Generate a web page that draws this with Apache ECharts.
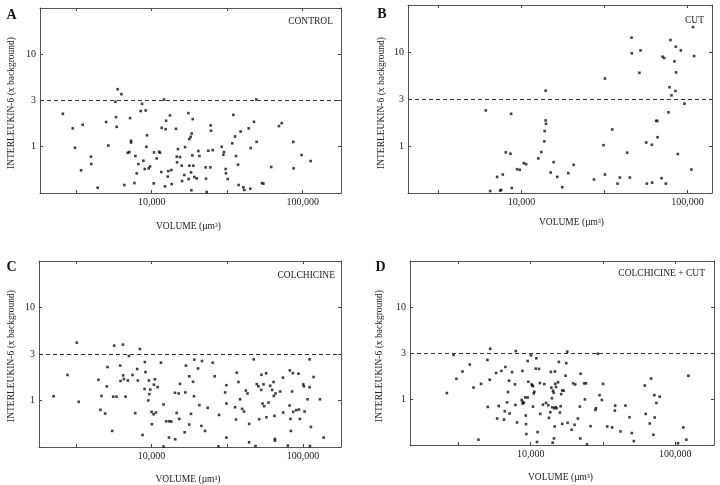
<!DOCTYPE html>
<html><head><meta charset="utf-8">
<script src="https://cdn.jsdelivr.net/npm/echarts@6/dist/echarts.min.js"></script>
<style>html,body{margin:0;padding:0;background:#fff}#c{width:720px;height:485px}</style>
</head><body><div id="c"></div>
<script>
// ---------- data ----------
const panelLetters = ['A', 'B', 'C', 'D'];
const panelTitles = ['CONTROL', 'CUT', 'COLCHICINE', 'COLCHICINE + CUT'];
const xName = 'VOLUME (\u00B5m\u00B3)';
const yName = 'INTERLEUKIN-6 (x background)';
const xTickValues = [10000, 100000];
const xTickLabels = ['10,000', '100,000'];
const yTickValues = [1, 3.162, 10];
const yTickLabels = ['1', '3', '10'];
const thresholdIL6 = 3.162;

const controlVolume = [2580,3000,3105,3490,3405,3963,3981,4390,4990,5165,5745,5805,5865,5955,6300,6590,6935,7115,7190,7300,7300,7680,7800,7960,8165,8455,8630,8810,8990,9120,9225,9310,9550,9750,10310,10360,10790,11190,11350,11590,11650,12070,12250,12380,12450,12760,12890,13220,13490,13560,14490,14650,14720,14930,15410,15810,15890,16450,16630,17500,17580,17760,17760,18130,18220,18320,18410,18590,18690,18880,19170,19860,20370,20700,22780,22890,23130,23730,24470,24580,24700,25350,29090,29830,30130,30900,31050,31860,34200,34750,35650,36160,37320,37670,38840,40460,41100,43890,45000,45250,47610,49320,49570,53830,54950,61940,69680,72600,86700,87100,98450,113000];
const controlIL6 = [2.27,1.58,0.975,1.73,0.556,0.78,0.65,0.361,1.85,1.03,3.06,2.09,1.64,4.19,3.70,0.386,0.861,0.875,2.04,1.11,1.16,0.405,0.793,0.515,0.65,2.43,2.91,0.706,0.574,2.47,1.0,1.33,0.584,0.613,0.402,0.868,0.748,0.883,0.861,0.533,1.60,3.24,0.373,1.55,1.91,0.475,0.546,2.18,0.560,0.395,1.56,0.78,0.678,0.944,0.773,0.624,0.426,0.495,0.99,2.31,0.448,1.21,0.624,1.28,0.528,0.338,1.39,0.806,1.99,0.624,0.471,0.455,0.898,0.793,0.598,0.452,0.324,0.906,0.598,1.70,1.49,0.92,1.0,0.82,0.875,0.574,0.515,0.448,1.09,2.21,1.29,0.793,0.64,0.386,1.46,0.364,0.341,1.58,0.352,0.968,1.86,3.24,1.13,0.405,0.399,0.604,1.67,1.80,1.13,0.584,0.813,0.70];

const cutVolume = [6105,6485,7140,7445,7550,7725,8050,8590,8670,8750,9420,9770,10330,10670,12650,13190,13750,13810,14000,14060,14000,15000,15640,16450,17630,19170,20640,27350,31260,31850,31850,35240,37950,39180,43360,45000,46050,46250,51400,52150,56430,56990,61050,61330,64830,65770,66070,69800,70790,72400,74100,76900,77960,79070,80160,83560,85100,84700,85500,87500,91200,95900,105700,108100,109700];
const cutIL6 = [2.39,0.332,0.469,0.335,0.341,0.497,0.855,0.828,2.20,0.358,0.567,0.558,0.657,0.641,0.738,0.862,1.12,1.44,1.87,1.72,3.88,0.522,0.674,0.469,0.364,0.514,0.631,0.44,1.02,0.497,5.22,1.50,0.398,0.462,0.849,0.462,14.2,9.68,6.01,10.4,1.09,0.398,1.03,0.408,1.85,1.85,1.24,0.454,8.91,8.63,0.398,2.28,4.22,13.4,3.46,7.94,11.4,3.85,6.06,0.821,10.4,2.82,0.562,18.4,9.06];

const colchicineVolume = [2255,2780,3205,3300,4455,4595,4665,4935,5060,5115,5490,5575,5660,5865,6200,6235,6460,6490,6560,6725,6970,7080,7480,7800,8035,8115,8370,8715,9035,8990,9120,9505,9600,9655,9800,10000,10050,10310,10360,10520,10680,10960,11530,12000,12000,12510,13030,13090,13490,14280,14350,14650,15100,15240,15410,16550,16710,16870,17760,17760,18220,18790,19170,19070,20280,20700,21330,21530,22540,23500,25350,26140,27670,27920,30620,31210,31210,31210,35650,36160,36560,37500,38460,39630,40840,41970,43050,44140,44140,47330,48630,49570,50820,51400,52970,53210,54080,54950,55460,57150,57410,59290,60810,62660,63970,64270,64890,65310,65310,65920,70790,73790,74130,79540,81620,82000,82800,83300,84900,85900,86300,90360,93540,94100,95500,100500,101600,102600,107400,110700,110700,111300,113000,117700,129600,137100];
const colchicineIL6 = [1.11,1.88,4.19,0.968,1.67,0.793,1.12,0.724,1.42,2.29,0.471,1.10,3.89,1.10,2.37,1.62,3.99,1.86,1.70,1.10,1.64,3.01,1.88,0.73,2.18,1.64,3.58,0.426,2.59,1.33,2.02,1.0,1.64,1.17,1.31,0.755,0.556,0.712,1.48,1.69,0.742,1.39,2.55,0.906,0.32,0.598,0.399,0.598,0.593,1.21,0.383,0.736,1.19,0.634,1.51,0.455,1.22,2.37,0.551,1.82,0.718,1.59,2.75,1.11,2.21,0.891,0.533,2.66,0.471,0.834,2.55,1.82,0.321,0.70,1.22,1.46,0.928,0.399,0.847,0.624,1.99,1.58,1.03,0.813,0.761,1.28,1.19,0.56,0.355,2.77,0.324,1.50,1.42,0.629,1.30,1.89,0.928,1.49,0.868,1.96,0.661,0.951,1.44,1.30,1.58,1.12,0.684,0.386,0.37,1.19,1.25,1.76,0.742,0.327,0.883,2.11,0.634,0.471,1.25,1.97,0.755,0.787,1.94,0.80,0.634,1.49,1.42,0.761,1.03,2.77,1.39,0.324,0.52,1.79,1.03,0.399];

const colchicineCutVolume = [2636,2930,3070,3380,3795,4025,4355,4540,5025,5050,5215,5250,5770,5865,6015,6280,6545,6620,6685,6870,6980,7090,7160,7435,7800,7840,7885,8050,8670,8770,8810,8810,8990,9190,9245,9290,9335,9530,9530,9640,10050,10160,10260,10370,10370,10490,10590,10830,10940,11060,11170,11410,11590,11660,12160,12420,12760,13240,13370,13670,13800,13900,14030,14100,14190,14260,14420,14490,14560,14650,14720,14790,14860,14960,15100,15450,15670,15920,16110,16260,16520,16520,16900,17420,17620,17900,17990,19170,19680,20100,20320,21200,21880,22020,22130,23440,23710,24080,24470,25940,28050,28250,29110,29920,31050,31700,33800,36560,38190,38370,41780,45190,48190,50000,51640,61480,62370,66530,67920,70470,71610,71940,73960,77960,104200,113500,119100,123000];
const colchicineCutIL6 = [1.16,3.01,1.66,1.99,2.37,1.33,0.361,1.46,2.66,0.82,1.62,3.52,1.92,0.613,0.84,2.02,0.598,0.736,2.23,0.92,1.19,1.58,0.695,1.96,1.44,0.861,3.32,0.556,0.975,2.02,0.891,0.928,0.913,1.04,0.661,0.533,0.416,2.59,1.04,1.54,2.98,1.44,1.40,1.38,0.827,1.15,1.20,2.14,2.77,0.341,0.437,2.12,1.49,0.689,0.868,1.45,0.906,0.855,0.624,0.718,1.97,1.33,1.02,0.813,0.335,1.23,1.17,0.373,0.793,0.503,1.99,1.46,0.813,1.35,0.793,1.52,2.53,0.712,0.834,1.13,0.537,1.24,1.23,1.79,2.45,3.27,0.551,0.463,1.48,0.524,1.44,0.613,0.827,0.373,1.88,1.48,0.99,1.48,0.321,0.507,0.761,0.793,3.1,1.10,0.975,1.46,0.503,0.491,0.748,0.847,0.444,0.847,0.634,0.426,0.349,1.40,0.689,0.542,1.67,0.409,1.10,0.629,0.906,1.06,0.33,0.491,0.361,1.79];

const panelVolumes = [controlVolume, cutVolume, colchicineVolume, colchicineCutVolume];
const panelIL6 = [controlIL6, cutIL6, colchicineIL6, colchicineCutIL6];
const panelVolumeRange = [[1820, 179500], [2075, 140600], [1803, 178600], [1466, 184900]];
const il6Range = [0.3162, 31.62];

// ---------- layout ----------
const FONT = '"Liberation Serif", "Times New Roman", serif';
const TXT = '#222';
const grids = [
  { left: 40, top: 8, width: 301, height: 185 },
  { left: 408, top: 5, width: 304, height: 188 },
  { left: 39, top: 261, width: 302, height: 186 },
  { left: 410, top: 261, width: 304, height: 184 }
];
const letterPos = [[11.5, 15], [382, 14.5], [11.5, 267], [380.5, 267.5]];
const titlePos = [[333, 21.5], [704, 20.5], [335, 275], [705, 273.5]];
const yNamePos = [[11, 103], [381, 103], [11, 356], [379, 356]];
const xNamePos = [[188.5, 226.5], [571.5, 222.5], [188, 479], [560.5, 477]];

function near(v, t) { return Math.abs(Math.log10(v) - Math.log10(t)) < 0.01; }
function xFmt(v) { for (let i = 0; i < xTickValues.length; i++) if (near(v, xTickValues[i])) return xTickLabels[i]; return ''; }
function yFmt(v) { for (let i = 0; i < yTickValues.length; i++) if (near(v, yTickValues[i])) return yTickLabels[i]; return ''; }

const lineStyle = { color: '#555', width: 1 };
const tickStyle = { show: true, inside: true, length: 3, lineStyle: { color: '#444', width: 1 } };
const xAxes = [], yAxes = [], series = [], graphic = [];
for (let i = 0; i < 4; i++) {
  const base = { type: 'log', logBase: Math.sqrt(10), gridIndex: i, splitLine: { show: false },
    axisLine: { show: true, lineStyle }, axisTick: tickStyle };
  xAxes.push(Object.assign({}, base, { position: 'bottom', min: panelVolumeRange[i][0], max: panelVolumeRange[i][1],
    axisLabel: { formatter: xFmt, fontFamily: FONT, fontSize: 10, color: TXT, margin: 4, showMinLabel: false, showMaxLabel: false } }));
  yAxes.push(Object.assign({}, base, { position: 'left', min: il6Range[0], max: il6Range[1],
    axisLabel: { formatter: yFmt, fontFamily: FONT, fontSize: 10, color: TXT, margin: 4, showMinLabel: false, showMaxLabel: false } }));
}
for (let i = 0; i < 4; i++) {
  const base = { type: 'log', logBase: Math.sqrt(10), gridIndex: i, splitLine: { show: false },
    axisLine: { show: true, lineStyle }, axisTick: tickStyle, axisLabel: { show: false } };
  xAxes.push(Object.assign({}, base, { position: 'top', min: panelVolumeRange[i][0], max: panelVolumeRange[i][1] }));
  yAxes.push(Object.assign({}, base, { position: 'right', min: il6Range[0], max: il6Range[1] }));
}
for (let i = 0; i < 4; i++) {
  series.push({
    type: 'scatter', xAxisIndex: i, yAxisIndex: i,
    data: panelVolumes[i].map((v, k) => [v, panelIL6[i][k]]),
    symbol: 'rect', symbolSize: 2.6, itemStyle: { color: '#111' }, silent: true,
    markLine: { silent: true, symbol: 'none', label: { show: false },
      lineStyle: { type: [4, 3], color: '#333', width: 1 }, data: [{ yAxis: thresholdIL6 }] }
  });
  graphic.push({ type: 'text', x: letterPos[i][0], y: letterPos[i][1],
    style: { text: panelLetters[i], font: 'bold 14px ' + FONT, fill: '#111', align: 'center', verticalAlign: 'middle' } });
  graphic.push({ type: 'text', x: titlePos[i][0], y: titlePos[i][1],
    style: { text: panelTitles[i], font: '9.5px ' + FONT, fill: TXT, align: 'right', verticalAlign: 'middle' } });
  graphic.push({ type: 'text', x: yNamePos[i][0], y: yNamePos[i][1], rotation: Math.PI / 2,
    style: { text: yName, font: '9.5px ' + FONT, fill: TXT, align: 'center', verticalAlign: 'middle' } });
  graphic.push({ type: 'text', x: xNamePos[i][0], y: xNamePos[i][1],
    style: { text: xName, font: '9.5px ' + FONT, fill: TXT, align: 'center', verticalAlign: 'middle' } });
}

const chart = echarts.init(document.getElementById('c'), null, { renderer: 'canvas' });
chart.setOption({
  backgroundColor: '#fff', animation: false,
  grid: grids.map(g => Object.assign({ show: false, containLabel: false }, g)),
  xAxis: xAxes, yAxis: yAxes, series: series, graphic: graphic
});
</script></body></html>
